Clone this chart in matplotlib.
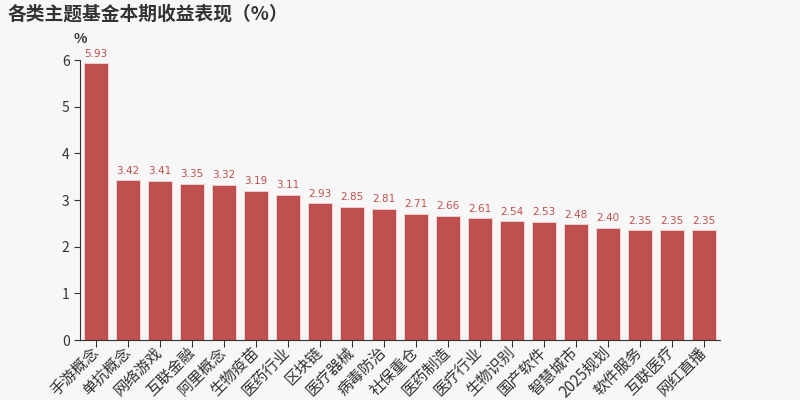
import matplotlib
matplotlib.use("Agg")
import matplotlib.pyplot as plt

plt.rcParams['font.family'] = ['Noto Sans CJK SC', 'DejaVu Sans']
plt.rcParams['axes.unicode_minus'] = False

# 主题名称与收益率
themes = ['手游概念', '单抗概念', '网络游戏', '互联金融', '阿里概念', '生物疫苗', '医药行业',
          '区块链', '医疗器械', '病毒防治', '社保重仓', '医药制造', '医疗行业', '生物识别',
          '国产软件', '智慧城市', '2025规划', '软件服务', '互联医疗', '网红直播']
returns = [5.93, 3.42, 3.41, 3.35, 3.32, 3.19, 3.11, 2.93, 2.85, 2.81,
           2.71, 2.66, 2.61, 2.54, 2.53, 2.48, 2.40, 2.35, 2.35, 2.35]

BG = '#f7f7f7'
BAR = '#c0504d'
TXT = '#333333'

fig = plt.figure(figsize=(8, 4), dpi=100, facecolor=BG)
ax = fig.add_axes([0.1, 0.15, 0.8, 0.7], facecolor=BG)

x = range(len(themes))
bars = ax.bar(x, returns, width=0.72, color=BAR, edgecolor='#f2d6d5', linewidth=0.6)

for bar, v in zip(bars, returns):
    ax.text(bar.get_x() + bar.get_width() / 2, v + 0.1, f'{v:.2f}',
            ha='center', va='bottom', fontsize=7.5, color=BAR, family='DejaVu Sans')

ax.set_xlim(-0.5, len(themes) - 0.5)
ax.set_ylim(0, 6)
ax.set_yticks(range(7))
ax.set_xticks(list(x))
ax.set_xticklabels(themes, rotation=45, ha='right', va='center', rotation_mode='anchor',
                   fontsize=11, color=TXT)
ax.tick_params(axis='y', labelsize=10, colors=TXT, length=4)
ax.tick_params(axis='x', length=5, colors=TXT, pad=2)

for s in ['top', 'right']:
    ax.spines[s].set_visible(False)
ax.spines['left'].set_color(TXT)
ax.spines['bottom'].set_color(TXT)

ax.text(0, 1.05, '%', transform=ax.transAxes, ha='center', va='bottom',
        fontsize=10, color=TXT, fontweight='bold')
fig.text(0.01, 0.965, '各类主题基金本期收益表现（%）', fontsize=13.5, fontweight='bold',
         color=TXT, ha='left', va='center')

fig.savefig('out.png', dpi=100, facecolor=BG)
